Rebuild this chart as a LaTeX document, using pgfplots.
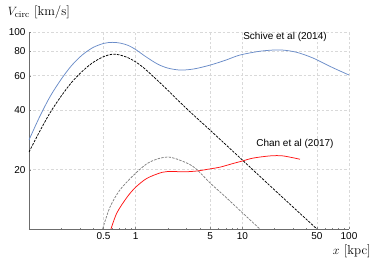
\documentclass[border=0pt]{standalone}
\usepackage{fontspec}
\newfontfamily\arial{Liberation Sans}
\usepackage{pgfplots}
\pgfplotsset{compat=1.18}
\definecolor{sblue}{RGB}{106,140,200}
\definecolor{sred}{RGB}{255,20,20}
\begin{document}
\begin{tikzpicture}
\begin{axis}[
 at={(0,0)}, anchor=south west,
 scale only axis, width=320pt, height=197pt,
 xmode=log, ymode=log,
 xmin=0.1, xmax=100, ymin=10, ymax=100,
 axis lines*=left,
 axis line style={-, gray!85!black, line width=0.6pt},
 xtick={0.5,1,5,10,50,100}, xticklabels={0.5,1,5,10,50,100},
 ytick={20,40,60,80,100}, yticklabels={20,40,60,80,100},
 minor xtick={0.2,0.3,0.4,0.6,0.7,0.8,0.9,2,3,4,6,7,8,9,20,30,40,60,70,80,90},
 minor ytick={30,50,70,90},
 grid=major,
 major grid style={dash pattern=on 2.5pt off 2pt, color=black!15, line width=0.5pt},
 tick style={gray, line width=0.4pt},
 major tick length=2.5pt, minor tick length=1.5pt,
 ticklabel style={font=\arial\fontsize{10}{12}\selectfont},
 xlabel={$x$ [kpc]}, ylabel={$V_{\mathrm{circ}}$ [km/s]},
 label style={font=\fontsize{13}{15}\selectfont},
 xlabel style={at={(axis description cs:1.009,-0.112)}, anchor=center},
 ylabel style={at={(axis description cs:0.031,1.10)}, anchor=center, rotate=-90},
 clip=true,
]
% Schive et al (2014)
\addplot[sblue, line width=0.75pt, smooth, tension=0.5] coordinates {
(0.1,28.3) (0.126,37.2) (0.158,47.1) (0.2,57.5) (0.251,67.6) (0.316,76.5) (0.398,83.4)
(0.501,87.5) (0.603,88.6) (0.72,87.8) (0.85,85.5) (1.0,81.5) (1.22,75.5) (1.6,68.8)
(2.0,65.6) (2.61,64.1) (3.5,64.9) (4.98,67.9) (7,72) (9.5,76.4) (15,80) (22.5,81.1)
(32,79) (45.9,73.8) (70,66) (100,60.5)};
% black dashed
\addplot[black, line width=0.75pt, dash pattern=on 2.5pt off 1.2pt, smooth, tension=0.5] coordinates {
(0.1,24.6) (0.126,31.3) (0.158,39.0) (0.2,47.2) (0.251,55.5) (0.316,63.2) (0.398,70.0)
(0.501,75.0) (0.6,77.1) (0.7,76.6) (0.85,74) (1.0,70.5) (1.22,65) (1.8,53.5)
(2.78,42.5) (3.84,36.1) (5,31.7) (10,22.4) (20,15.8) (50,10.0)};
% gray dashed
\addplot[gray, line width=0.75pt, dash pattern=on 2.5pt off 1.2pt, smooth, tension=0.5] coordinates {
(0.49,10) (0.574,12.9) (0.713,15.8) (1.0,19.2) (1.36,21.9) (2.01,23.2) (3.03,21.6)
(3.76,20) (5.0,17.1) (7,14.5) (10,12.1) (14.6,10)};
% Chan et al (2017)
\addplot[sred, line width=0.75pt, smooth, tension=0.5] coordinates {
(0.587,10) (0.668,12.1) (0.83,14.5) (1.0,16.3) (1.28,18.1) (1.77,19.4) (2.2,19.6)
(2.78,19.5) (3.76,19.7) (5,20.2) (6.18,20.6) (8.17,21.5) (9.9,22.1) (12.6,22.9)
(18.2,23.5) (24,23.5) (34.7,22.6)};
\node[font=\arial\fontsize{10}{12}\selectfont] at (rel axis cs:0.80,0.975) {Schive et al (2014)};
\node[font=\arial\fontsize{10}{12}\selectfont] at (rel axis cs:0.831,0.431) {Chan et al (2017)};
\end{axis}
\pgfresetboundingbox
\path (-29pt,-30pt) rectangle (345pt,229pt);
\end{tikzpicture}
\end{document}
